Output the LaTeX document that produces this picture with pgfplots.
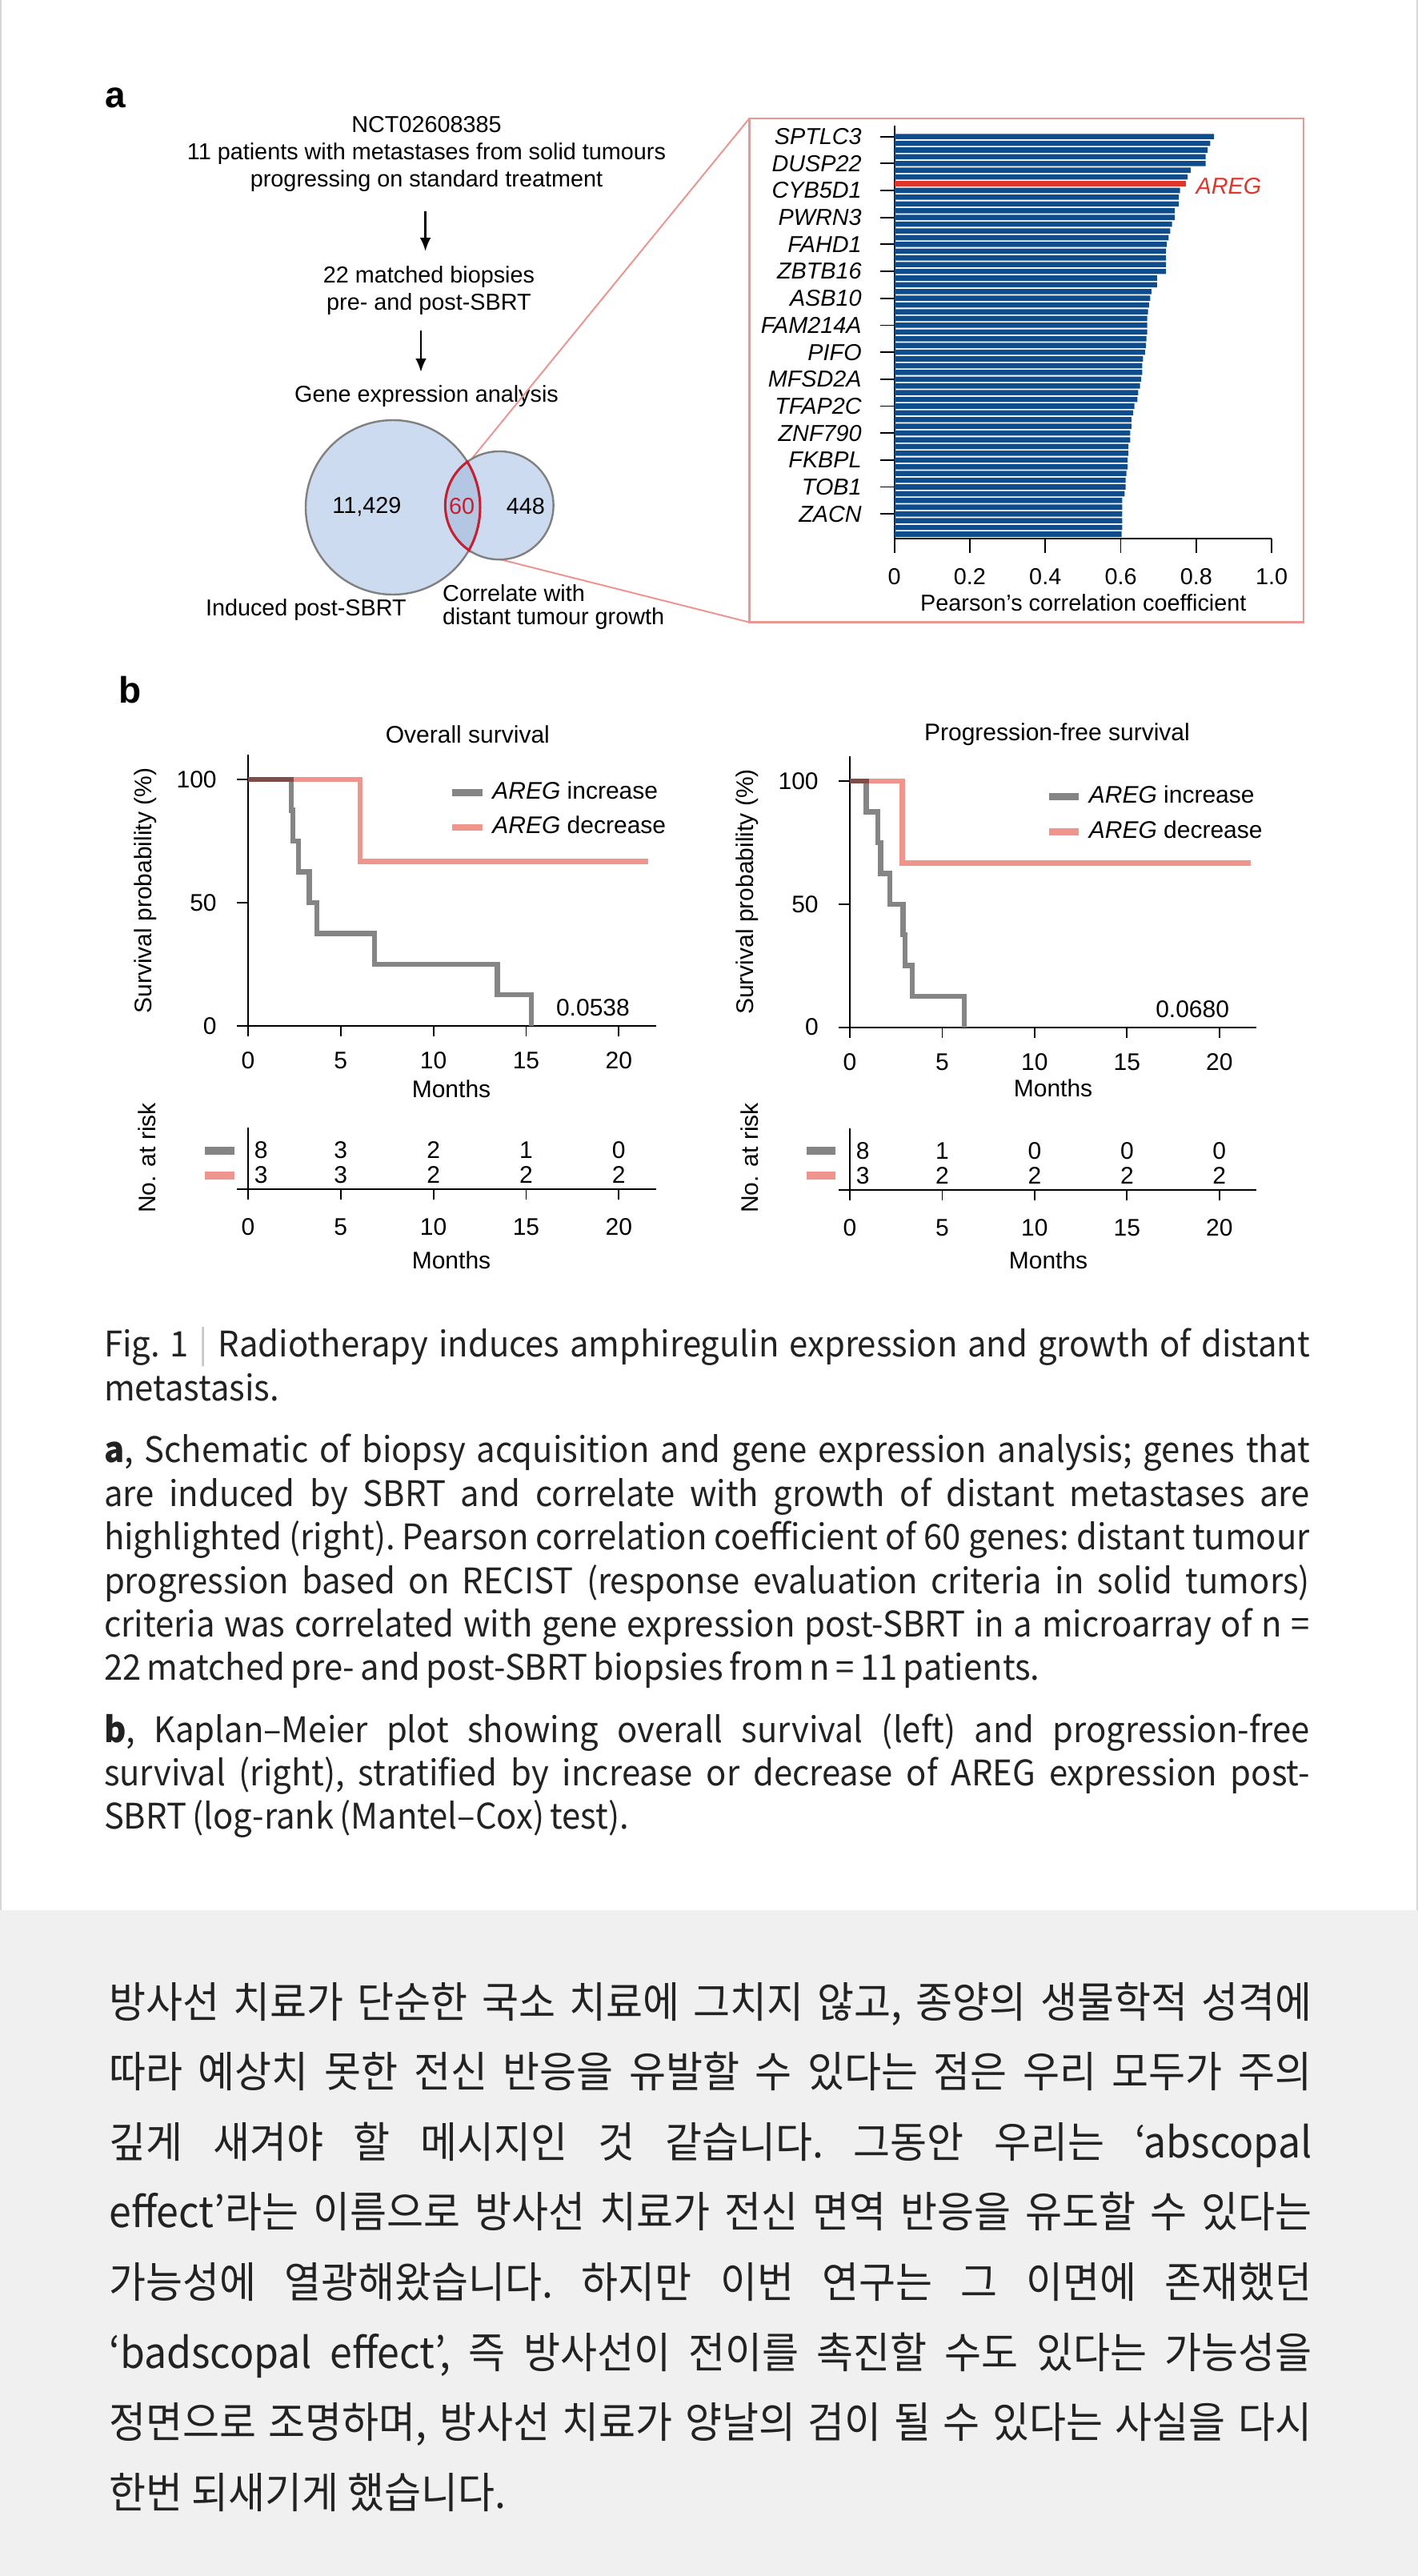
\documentclass[border=0pt]{standalone}
\usepackage{fontspec}
\setmainfont{Liberation Sans}
\newfontfamily\krcap[FakeStretch=0.95, WordSpace=0.78]{Noto Sans CJK KR}
\newfontfamily\krbody[FakeStretch=0.94]{Noto Sans CJK KR}
\usepackage{pgfplots}
\usepackage{pgfplotstable}
\pgfplotsset{compat=1.18}
\usetikzlibrary{arrows.meta}
\definecolor{barblue}{HTML}{0F4C8C}
\definecolor{aregred}{HTML}{E0352B}
\definecolor{kmgray}{HTML}{858585}
\definecolor{kmpink}{HTML}{F0958C}
\definecolor{vennfill}{HTML}{CCDBEF}
\definecolor{lensfill}{HTML}{B3C6E2}
\definecolor{vennedge}{HTML}{808080}
\definecolor{lensred}{HTML}{C81E32}
\definecolor{boxpink}{HTML}{EC9692}
\definecolor{bandgray}{HTML}{F0F0F0}
\definecolor{edgegray}{HTML}{D6D6D6}
\definecolor{captxt}{HTML}{222222}
\newcommand\fa{\fontsize{7.2pt}{8.6pt}\selectfont}
\newcommand\fk{\fontsize{7.5pt}{9pt}\selectfont}
\newcommand\capfont{\krcap\fontsize{11pt}{13.6pt}\selectfont\color{captxt}\frenchspacing}
\newcommand\krfont{\krbody\fontsize{13.3pt}{22pt}\selectfont\color{captxt}\frenchspacing}
\newcommand\cl[2]{\node[anchor=west, inner sep=0pt, text height=7.3pt, text depth=0pt] at (32.3pt,-#1pt) {\capfont\makebox[376.7pt][s]{#2}};}
\newcommand\clast[2]{\node[anchor=west, inner sep=0pt, text height=7.3pt, text depth=0pt] at (32.3pt,-#1pt) {\capfont\makebox[376.7pt][l]{#2}};}
\newcommand\kl[2]{\node[anchor=west, inner sep=0pt, text height=10.5pt, text depth=0pt] at (33.9pt,-#1pt) {\krfont\makebox[375.75pt][s]{#2}};}
\newcommand\klast[2]{\node[anchor=west, inner sep=0pt, text height=10.5pt, text depth=0pt] at (33.9pt,-#1pt) {\krfont\makebox[375.75pt][l]{#2}};}

\pgfplotstableread{
y v
60 0.847
59 0.837
58 0.830
57 0.825
56 0.825
55 0.785
54 0.777
52 0.757
51 0.754
50 0.754
49 0.743
48 0.743
47 0.736
46 0.731
45 0.727
44 0.722
43 0.720
42 0.720
41 0.720
40 0.720
39 0.696
38 0.696
37 0.681
36 0.678
35 0.675
34 0.672
33 0.670
32 0.670
31 0.670
30 0.668
29 0.667
28 0.664
27 0.659
26 0.657
25 0.657
24 0.654
23 0.651
22 0.646
21 0.644
20 0.636
19 0.633
18 0.628
17 0.628
16 0.625
15 0.625
14 0.620
13 0.620
12 0.618
11 0.618
10 0.615
9 0.613
8 0.613
7 0.610
6 0.604
5 0.604
4 0.604
3 0.604
2 0.604
1 0.602
}\barsdata
\pgfplotstableread{
y v
53 0.772
}\aregdata
\pgfplotstableread{
t s
0 100
2.33 87.5
2.42 75
2.71 62.5
3.31 50
3.70 37.5
6.83 25
13.45 12.5
15.27 0
}\osinc
\pgfplotstableread{
t s
0 100
6.04 66.7
21.6 66.7
}\osdec
\pgfplotstableread{
t s
0 100
0.89 87.5
1.51 75
1.66 62.5
2.17 50
2.88 37.5
2.99 25
3.39 12.5
6.18 0
}\pfsinc
\pgfplotstableread{
t s
0 100
2.83 66.7
21.7 66.7
}\pfsdec
\pgfplotstableread{
x y t
0.7 0.634 8
5 0.634 3
10 0.634 2
15 0.634 1
20 0.634 0
0.7 0.234 3
5 0.234 3
10 0.234 2
15 0.234 2
20 0.234 2
}\osrisk
\pgfplotstableread{
x y t
0.7 0.634 8
5 0.634 1
10 0.634 0
15 0.634 0
20 0.634 0
0.7 0.234 3
5 0.234 2
10 0.234 2
15 0.234 2
20 0.234 2
}\pfsrisk

\pgfplotsset{
  kmstyle/.style={scale only axis, axis x line=bottom, axis y line=left,
    axis line style={-, line width=0.45pt}, tick align=outside,
    major tick length=3.4pt, tick style={black, line width=0.45pt},
    ticklabel style={font=\fk}, /pgf/number format/assume math mode=true,
    clip=false, xticklabel style={yshift=-1.3pt}, yticklabel style={xshift=-2.9pt},
    xmin=0, xmax=22, xtick={0,5,10,15,20}},
  kmleg/.style={legend style={at={#1}, anchor=north west, draw=none, fill=none,
    inner sep=0pt, row sep=0pt, font=\fk, cells={anchor=west}},
    legend image code/.code={\draw[##1, line width=2.2pt] (0pt,0pt) -- (9.4pt,0pt);}},
  riskplot/.style={draw=none, mark=none, nodes near coords, point meta=explicit symbolic,
    every node near coord/.append style={anchor=center, font=\fk, inner sep=0pt}}
}

\begin{document}
\begin{tikzpicture}
\useasboundingbox (0pt,0pt) rectangle (443pt,-804.75pt);
\fill[white] (0pt,0pt) rectangle (443pt,-596.75pt);
\fill[bandgray] (0pt,-596.75pt) rectangle (443pt,-804.75pt);
\draw[edgegray, line width=0.5pt] (0.25pt,0pt) -- (0.25pt,-596.75pt);
\draw[edgegray, line width=0.5pt] (442.75pt,0pt) -- (442.75pt,-596.75pt);

% ---------- panel a ----------
\node[inner sep=0pt] at (36.1pt,-30.6pt) {\fontsize{11.5pt}{12pt}\selectfont\bfseries a};
\node[align=center, font=\fa, inner sep=0pt] at (133.25pt,-48.1pt) {NCT02608385\\11 patients with metastases from solid tumours\\progressing on standard treatment};
\draw[line width=0.7pt, -{Latex[length=4.2pt,width=3.4pt]}] (132.9pt,-65.9pt) -- (132.9pt,-78.5pt);
\node[align=center, font=\fa, inner sep=0pt] at (134pt,-90.8pt) {22 matched biopsies\\pre- and post-SBRT};
\draw[line width=0.7pt, -{Latex[length=4.2pt,width=3.4pt]}] (131.5pt,-103.25pt) -- (131.5pt,-116.25pt);
\node[font=\fa, inner sep=0pt] at (133.25pt,-123.75pt) {Gene expression analysis};

% connector lines and box
\draw[boxpink, line width=0.5pt] (146.25pt,-144.7pt) -- (234.1pt,-37pt);
\draw[boxpink, line width=0.5pt] (146.5pt,-172.3pt) -- (234.1pt,-194.4pt);
\draw[boxpink, line width=0.6pt] (234.1pt,-37pt) rectangle (407.25pt,-194.4pt);

% Venn
\fill[vennfill] (122.75pt,-158.5pt) circle (27.25pt);
\fill[vennfill] (156pt,-157.9pt) circle (16.9pt);
\begin{scope}
\clip (122.75pt,-158.5pt) circle (27.25pt);
\fill[lensfill] (156pt,-157.9pt) circle (16.9pt);
\end{scope}
\draw[vennedge, line width=0.6pt] (122.75pt,-158.5pt) circle (27.25pt);
\draw[vennedge, line width=0.6pt] (156pt,-157.9pt) circle (16.9pt);
\begin{scope}
\clip (156pt,-157.9pt) circle (17.3pt);
\draw[lensred, line width=0.75pt] (122.75pt,-158.5pt) circle (27.25pt);
\end{scope}
\begin{scope}
\clip (122.75pt,-158.5pt) circle (27.65pt);
\draw[lensred, line width=0.75pt] (156pt,-157.9pt) circle (16.9pt);
\end{scope}
\node[font=\fa, inner sep=0pt] at (114.6pt,-158.3pt) {11,429};
\node[font=\fa, inner sep=0pt, text=lensred] at (144.3pt,-158.25pt) {60};
\node[font=\fa, inner sep=0pt] at (164.2pt,-158.25pt) {448};
\node[font=\fa, inner sep=0pt] at (95.6pt,-190.4pt) {Induced post-SBRT};
\node[font=\fa, inner sep=0pt, anchor=west] at (138.1pt,-185.25pt) {Correlate with};
\node[font=\fa, inner sep=0pt, anchor=west] at (138.1pt,-193.25pt) {distant tumour growth};

% bar chart
\begin{axis}[at={(279.4pt,-168.3pt)}, anchor=south west, scale only axis,
  width=117.9pt, height=129pt, xmin=0, xmax=1, ymin=0.32, ymax=61.6,
  axis x line=bottom, axis y line=left, axis line style={-, line width=0.45pt},
  tick align=outside, major tick length=4.4pt, tick style={black, line width=0.45pt},
  xtick={0,0.2,0.4,0.6,0.8,1}, xticklabels={0,0.2,0.4,0.6,0.8,1.0},
  ytick={4,8,...,60},
  yticklabels={ZACN,TOB1,FKBPL,ZNF790,TFAP2C,MFSD2A,PIFO,FAM214A,ASB10,ZBTB16,FAHD1,PWRN3,CYB5D1,DUSP22,SPTLC3},
  yticklabel style={font=\fa\itshape, xshift=-2.3pt},
  xticklabel style={font=\fa, yshift=-1.4pt},
  /pgf/number format/assume math mode=true,
  xbar, bar width=1.65pt, bar shift=0pt]
\addplot[fill=barblue, draw=none] table[x=v, y=y] {\barsdata};
\addplot[fill=aregred, draw=none] table[x=v, y=y] {\aregdata};
\end{axis}
\node[anchor=west, text=aregred, font=\fa\itshape, inner sep=0pt] at (373.45pt,-58.1pt) {AREG};
\node[font=\fa, inner sep=0pt] at (338.45pt,-188.25pt) {Pearson’s correlation coefficient};

% ---------- panel b ----------
\node[inner sep=0pt] at (40.75pt,-215.6pt) {\fontsize{11.5pt}{12pt}\selectfont\bfseries b};

% OS
\node[font=\fk, inner sep=0pt] at (146.1pt,-229.5pt) {Overall survival};
\node[font=\fk, inner sep=0pt, rotate=90] at (45.4pt,-278.25pt) {Survival probability (\%)};
\begin{axis}[kmstyle, at={(77.5pt,-320.43pt)}, anchor=south west,
  width=127.4pt, height=84.6pt, ymin=0, ymax=110, ytick={0,50,100},
  kmleg={(axis cs:10.8,102.1)}]
\addplot[kmgray, const plot, line width=1.6pt] table[x=t, y=s] {\osinc};
\addlegendentry{\textit{AREG} increase}
\addplot[kmpink, const plot, line width=1.6pt, blend mode=multiply] table[x=t, y=s] {\osdec};
\addlegendentry{\textit{AREG} decrease}
\end{axis}
\node[font=\fk, inner sep=0pt, anchor=east] at (196.9pt,-314.9pt) {0.0538};
\node[font=\fk, inner sep=0pt] at (141pt,-340.15pt) {Months};

\begin{axis}[kmstyle, at={(77.5pt,-371.4pt)}, anchor=south west,
  width=127.4pt, height=19.15pt, ymin=0, ymax=1, ytick={0}, yticklabels={},
  xticklabel style={yshift=-1pt}]
\addplot[riskplot] table[x=x, y=y, meta=t] {\osrisk};
\end{axis}
\draw[kmgray, line width=2.4pt] (63.9pt,-359.5pt) -- (73.2pt,-359.5pt);
\draw[kmpink, line width=2.4pt] (63.9pt,-367.25pt) -- (73.2pt,-367.25pt);
\node[font=\fk, inner sep=0pt, rotate=90] at (46pt,-361.75pt) {No. at risk};
\node[font=\fk, inner sep=0pt] at (141pt,-393.7pt) {Months};

% PFS
\node[font=\fk, inner sep=0pt] at (330.25pt,-229.5pt) {Progression-free survival};
\node[font=\fk, inner sep=0pt, rotate=90] at (233.4pt,-278.6pt) {Survival probability (\%)};
\begin{axis}[kmstyle, at={(265.5pt,-320.9pt)}, anchor=south west,
  width=127pt, height=84.6pt, ymin=0, ymax=110, ytick={0,50,100},
  kmleg={(axis cs:10.55,101)}]
\addplot[kmgray, const plot, line width=1.6pt] table[x=t, y=s] {\pfsinc};
\addlegendentry{\textit{AREG} increase}
\addplot[kmpink, const plot, line width=1.6pt, blend mode=multiply] table[x=t, y=s] {\pfsdec};
\addlegendentry{\textit{AREG} decrease}
\end{axis}
\node[font=\fk, inner sep=0pt, anchor=east] at (384.2pt,-315.4pt) {0.0680};
\node[font=\fk, inner sep=0pt] at (329pt,-339.9pt) {Months};

\begin{axis}[kmstyle, at={(265.5pt,-371.65pt)}, anchor=south west,
  width=127pt, height=19.15pt, ymin=0, ymax=1, ytick={0}, yticklabels={},
  xticklabel style={yshift=-1pt}]
\addplot[riskplot] table[x=x, y=y, meta=t] {\pfsrisk};
\end{axis}
\draw[kmgray, line width=2.4pt] (251.9pt,-359.5pt) -- (261.05pt,-359.5pt);
\draw[kmpink, line width=2.4pt] (251.9pt,-367.25pt) -- (261.05pt,-367.25pt);
\node[font=\fk, inner sep=0pt, rotate=90] at (234.25pt,-361.75pt) {No. at risk};
\node[font=\fk, inner sep=0pt] at (327.5pt,-393.75pt) {Months};

% ---------- caption ----------
\cl{420.3}{Fig. 1 {\color{gray!45}|} Radiotherapy induces amphiregulin expression and growth of distant}
\clast{434.0}{metastasis.}
\cl{453.3}{\textbf{a}, Schematic of biopsy acquisition and gene expression analysis; genes that}
\cl{466.9}{are induced by SBRT and correlate with growth of distant metastases are}
\cl{480.5}{highlighted (right). Pearson correlation coefficient of 60 genes: distant tumour}
\cl{494.1}{progression based on RECIST (response evaluation criteria in solid tumors)}
\cl{507.7}{criteria was correlated with gene expression post-SBRT in a microarray of n =}
\clast{521.3}{22 matched pre- and post-SBRT biopsies from n = 11 patients.}
\cl{540.6}{\textbf{b}, Kaplan–Meier plot showing overall survival (left) and progression-free}
\cl{554.2}{survival (right), stratified by increase or decrease of AREG expression post-}
\clast{567.8}{SBRT (log-rank (Mantel–Cox) test).}

% ---------- Korean text ----------
\kl{625}{방사선 치료가 단순한 국소 치료에 그치지 않고, 종양의 생물학적 성격에}
\kl{646.9}{따라 예상치 못한 전신 반응을 유발할 수 있다는 점은 우리 모두가 주의}
\kl{668.8}{깊게 새겨야 할 메시지인 것 같습니다. 그동안 우리는 ‘abscopal}
\kl{690.7}{effect’라는 이름으로 방사선 치료가 전신 면역 반응을 유도할 수 있다는}
\kl{712.6}{가능성에 열광해왔습니다. 하지만 이번 연구는 그 이면에 존재했던}
\kl{734.5}{‘badscopal effect’, 즉 방사선이 전이를 촉진할 수도 있다는 가능성을}
\kl{756.4}{정면으로 조명하며, 방사선 치료가 양날의 검이 될 수 있다는 사실을 다시}
\klast{778.3}{한번 되새기게 했습니다.}
\end{tikzpicture}
\end{document}
